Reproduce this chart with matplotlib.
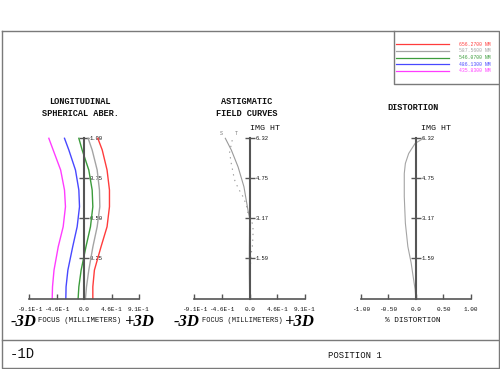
import matplotlib
matplotlib.use("Agg")
import matplotlib.pyplot as plt

plt.rcParams["font.family"] = ["Liberation Mono", "DejaVu Sans Mono"]

# ---- data ----
wavelengths = ["656.2700 NM", "587.5600 NM", "546.0700 NM", "486.1300 NM", "435.8300 NM"]
wave_colors = ["#ff3c3c", "#a4a4a4", "#3c9c3c", "#4848ff", "#ff3cff"]

pupil = [0.0, 0.073, 0.177, 0.323, 0.448, 0.573, 0.677, 0.802, 0.927, 1.0]
lsa_red = [0.144, 0.144, 0.17, 0.28, 0.38, 0.42, 0.42, 0.38, 0.30, 0.227]
lsa_grey = [0.022, 0.039, 0.077, 0.145, 0.216, 0.26, 0.254, 0.216, 0.133, 0.066]
lsa_green = [-0.10, -0.088, -0.05, 0.03, 0.105, 0.144, 0.133, 0.077, -0.033, -0.088]
lsa_blue = [-0.304, -0.30, -0.27, -0.19, -0.116, -0.077, -0.088, -0.144, -0.254, -0.326]
lsa_magenta = [-0.53, -0.525, -0.50, -0.43, -0.348, -0.31, -0.326, -0.39, -0.514, -0.586]

s_field = [0.0, 1.0, 2.0, 3.17, 3.49, 4.41, 5.19, 5.85, 6.32]
s_focus = [0.0, -0.005, -0.005, 0.0, -0.028, -0.094, -0.19, -0.30, -0.40]
t_field = [0.0, 0.88, 1.41, 1.8, 2.05, 2.45, 2.9, 3.37, 3.69, 4.02, 4.36, 4.69, 5.3, 5.76, 6.32]
t_focus = [0.0, 0.0, 0.016, 0.028, 0.044, 0.055, 0.055, -0.028, -0.054, -0.11, -0.19, -0.25,
           -0.30, -0.33, -0.28]

dist_field = [0.0, 0.35, 0.88, 1.40, 2.05, 2.97, 4.02, 4.93, 5.33, 5.72, 6.12, 6.32]
dist_pct = [0.0, -0.013, -0.05, -0.085, -0.145, -0.19, -0.21, -0.21, -0.19, -0.13, -0.013, 0.14]

focus_ticks = [-0.91, -0.455, 0.0, 0.455, 0.91]
focus_labels = ["-9.1E-1", "-4.6E-1", "0.0", "4.6E-1", "9.1E-1"]
dist_ticks = [-1.0, -0.5, 0.0, 0.5, 1.0]
dist_labels = ["-1.00", "-0.50", "0.0", "0.50", "1.00"]
pupil_ticks = [0.25, 0.50, 0.75, 1.00]
pupil_labels = ["0.25", "0.50", "0.75", "1.00"]
img_ticks = [1.59, 3.17, 4.75, 6.32]
img_labels = ["1.59", "3.17", "4.75", "6.32"]

AXIS = "#555555"
FRAME = "#7a7a7a"
INK = "#111111"
W, H = 500, 369


def setup_panel(ax, xlim, ylim, xticks, xlabels, yticks, ylabels):
    ax.set_xlim(*xlim)
    ax.set_ylim(*ylim)
    ax.patch.set_visible(False)
    ax.spines["top"].set_visible(False)
    ax.spines["left"].set_visible(False)
    ax.spines["right"].set_position(("data", 0))
    ax.spines["right"].set_color(AXIS)
    ax.spines["right"].set_linewidth(1.5)
    ax.spines["bottom"].set_color(AXIS)
    ax.spines["bottom"].set_linewidth(1.2)
    ax.yaxis.set_ticks_position("right")
    ax.set_xticks(xticks, xlabels)
    ax.set_yticks(yticks, ylabels)
    ax.tick_params(axis="x", direction="in", length=3.6, width=1.0, color=AXIS,
                   labelsize=4.3, pad=6.3, labelcolor=INK)
    ax.tick_params(axis="y", direction="inout", length=6.5, width=1.0, color=AXIS,
                   labelsize=4.0, pad=1.0, labelcolor=INK)


def fig_rect(x0, x1, y_bottom, y_top):
    return [x0 / W, 1 - y_bottom / H, (x1 - x0) / W, (y_bottom - y_top) / H]


fig = plt.figure(figsize=(5.0, 3.69), dpi=100, facecolor="white")

# background layer in pixel units: frame, titles, legend
bg = fig.add_axes([0, 0, 1, 1])
bg.set_xlim(0, W)
bg.set_ylim(H, 0)
bg.axis("off")

frame_kw = dict(color=FRAME, linewidth=1.0)
bg.plot([1.5, 498.5, 498.5, 1.5, 1.5], [30.5, 30.5, 368, 368, 30.5], **frame_kw)
bg.plot([1.5, 498.5], [339.5, 339.5], **frame_kw)
bg.plot([394, 394, 498.5], [30.5, 84, 84], **frame_kw)

for i, (name, col) in enumerate(zip(wavelengths, wave_colors)):
    yy = 44.3 + i * 6.6
    bg.plot([396, 449], [yy, yy], color=col, linewidth=0.9)
    bg.text(459, yy, name, color=col, fontsize=3.4, va="center", ha="left")

txt = dict(ha="center", va="center", color=INK)
title = dict(fontsize=6.2, weight="bold", **txt)
bg.text(80, 101, "LONGITUDINAL", **title)
bg.text(80, 113, "SPHERICAL ABER.", **title)
bg.text(247, 101.5, "ASTIGMATIC", **title)
bg.text(247, 113, "FIELD CURVES", **title)
bg.text(265, 128, "IMG HT", fontsize=6.0, **txt)
bg.text(413, 108, "DISTORTION", **title)
bg.text(436, 129, "IMG HT", fontsize=6.0, **txt)

bg.text(80, 321, "FOCUS (MILLIMETERS)", fontsize=5.2, **txt)
bg.text(242, 321, "FOCUS (MILLIMETERS)", fontsize=5.0, **txt)
bg.text(413, 320.5, "% DISTORTION", fontsize=5.6, **txt)

big = dict(family="Liberation Serif", weight="bold", style="italic", fontsize=12,
           ha="center", va="center", color="black")
bg.text(24, 322, "-3D", **big)
bg.text(139.5, 322, "+3D", **big)
bg.text(187, 322, "-3D", **big)
bg.text(300, 322, "+3D", **big)

bg.text(10, 354, "-1D", fontsize=10, ha="left", va="center", color=INK)
bg.text(328, 355, "POSITION 1", fontsize=6.4, ha="left", va="center", color=INK)

# ---- longitudinal spherical aberration ----
ax1 = fig.add_axes(fig_rect(29.3, 139.0, 298.5, 138.3))
setup_panel(ax1, (-0.91, 0.91), (0, 1.0), focus_ticks, focus_labels, pupil_ticks, pupil_labels)
for vals, col in zip([lsa_red, lsa_grey, lsa_green, lsa_blue, lsa_magenta], wave_colors):
    ax1.plot(vals, pupil, color=col, linewidth=1.0, clip_on=False)

# ---- astigmatic field curves ----
ax2 = fig.add_axes(fig_rect(194.3, 305.0, 298.5, 138.3))
setup_panel(ax2, (-0.91, 0.91), (0, 6.32), focus_ticks, focus_labels, img_ticks, img_labels)
ax2.plot(s_focus, s_field, color="#9a9a9a", linewidth=0.8, clip_on=False)
ax2.plot(t_focus, t_field, color="#9a9a9a", linewidth=0.8, linestyle=(0, (1.2, 4)),
         clip_on=False)
ax2.annotate("S", (s_focus[-1], s_field[-1]), xytext=(-3, 2), textcoords="offset points",
             fontsize=3.6, color="#777777", ha="center", va="bottom")
ax2.annotate("T", (t_focus[-1], t_field[-1]), xytext=(3, 2), textcoords="offset points",
             fontsize=3.6, color="#777777", ha="center", va="bottom")

# ---- distortion ----
ax3 = fig.add_axes(fig_rect(360.7, 471.0, 298.5, 138.3))
setup_panel(ax3, (-1.0, 1.0), (0, 6.32), dist_ticks, dist_labels, img_ticks, img_labels)
ax3.plot(dist_pct, dist_field, color="#a4a4a4", linewidth=0.8, clip_on=False)

fig.savefig("out.png", dpi=100, facecolor="white")
